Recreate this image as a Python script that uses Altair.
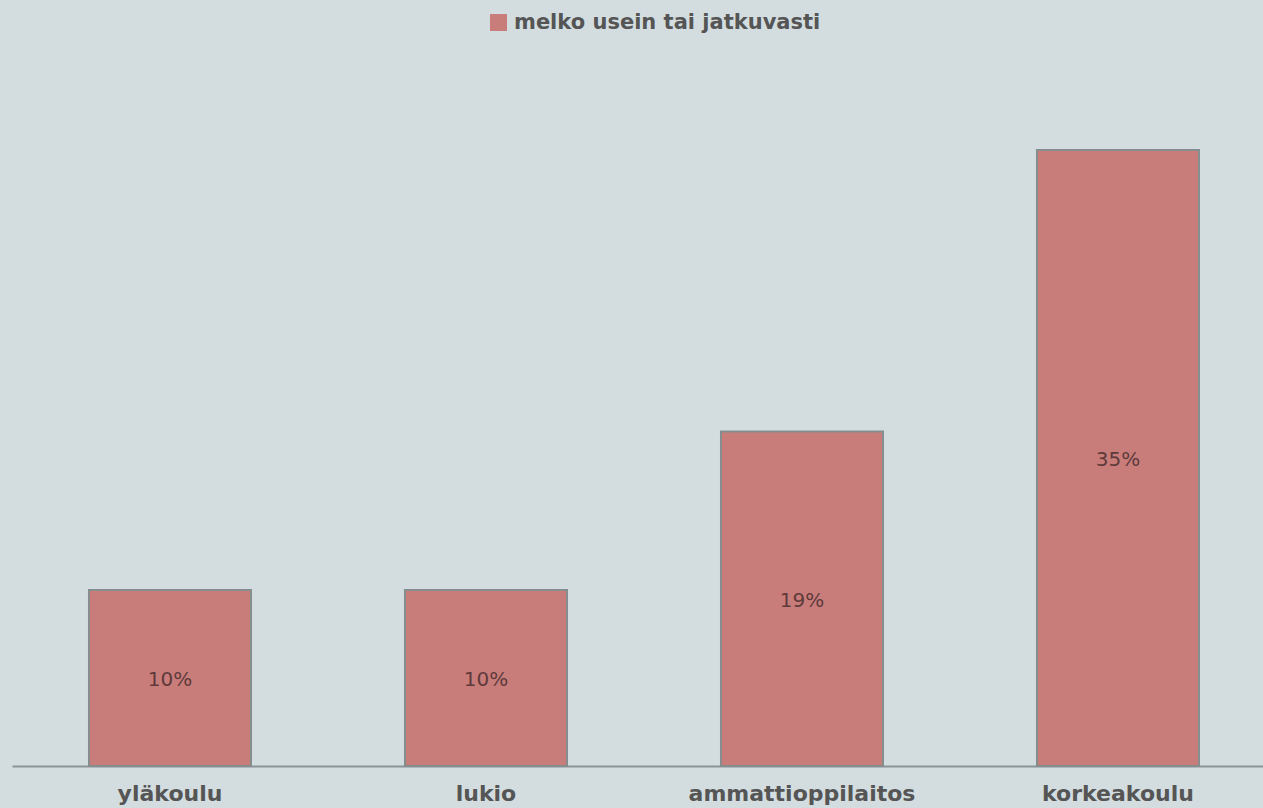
import altair as alt
import pandas as pd

categories = ["yläkoulu", "lukio", "ammattioppilaitos", "korkeakoulu"]
values = [10, 10, 19, 35]
labels = ["10%", "10%", "19%", "35%"]
series = "melko usein tai jatkuvasti"

df = pd.DataFrame({"cat": categories, "val": values, "lab": labels, "series": [series] * 4})
df["mid"] = df["val"] / 2

FONT = "DejaVu Sans"

x = alt.X("cat:N", sort=categories, title=None,
          scale=alt.Scale(paddingInner=0.4873, paddingOuter=0.2231, align=0.546),
          axis=alt.Axis(labelAngle=0, domainColor="#8a9496", domainWidth=2, ticks=False,
                        labelFont=FONT, labelFontWeight="bold", labelFontSize=22,
                        labelColor="#555555", labelPadding=17, labelLimit=0, grid=False))

y_scale = alt.Scale(domain=[0, 40], nice=False)

bars = alt.Chart(df).mark_bar(stroke="#858d8f", strokeWidth=2, cornerRadius=0).encode(
    x=x,
    y=alt.Y("val:Q", scale=y_scale, axis=None),
    color=alt.Color("series:N", scale=alt.Scale(domain=[series], range=["#c97d7b"]),
                    legend=alt.Legend(title=None, orient="none", legendX=476, legendY=-50,
                                      symbolType="square", symbolSize=289, symbolStrokeWidth=0,
                                      symbolOpacity=1, labelFont=FONT, labelFontWeight="bold",
                                      labelFontSize=21, labelColor="#555555", labelOffset=5,
                                      labelLimit=0, padding=0)),
)

text = alt.Chart(df).mark_text(font=FONT, fontSize=20, fontWeight=500, color="#5e3a3a",
                               baseline="middle", dy=2).encode(
    x=alt.X("cat:N", sort=categories),
    y=alt.Y("mid:Q", scale=y_scale),
    text="lab:N",
)

chart = (bars + text).properties(
    width=1251, height=704,
    background="#d3dde0",
    padding={"left": 12, "top": 62, "right": 0, "bottom": 42},
    autosize=alt.AutoSizeParams(type="none"),
).configure_view(stroke=None)

chart.save("out.html", embed_options={"renderer": "svg", "actions": False})
